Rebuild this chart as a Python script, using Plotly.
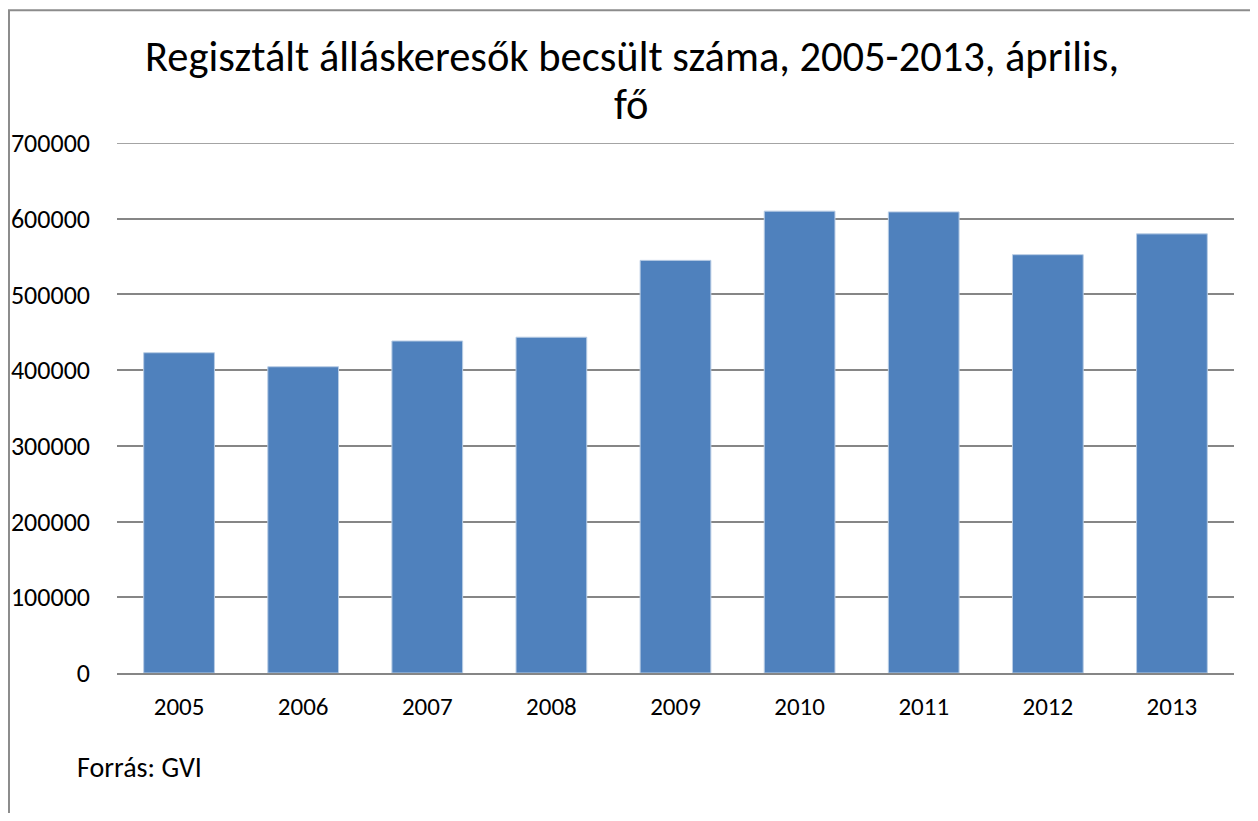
import plotly.graph_objects as go

years = ["2005", "2006", "2007", "2008", "2009", "2010", "2011", "2012", "2013"]
values = [423000, 404500, 438500, 443500, 545000, 610000, 609000, 552500, 580000]
y_ticks = [0, 100000, 200000, 300000, 400000, 500000, 600000, 700000]
title_lines = ["Regisztált álláskeresők becsült száma, 2005-2013, április,", "fő"]
source_text = "Forrás: GVI"

font_family = "Carlito, Calibri, 'Open Sans', sans-serif"
grid_color = "#868686"

fig = go.Figure(
    go.Bar(
        x=years,
        y=values,
        marker=dict(color="#4F81BD", line=dict(color="#B9CDE5", width=1)),
        width=0.57,
    )
)

fig.update_layout(
    width=1242,
    height=805,
    paper_bgcolor="white",
    plot_bgcolor="white",
    margin=dict(l=109, r=16, t=135, b=140),
    showlegend=False,
    font=dict(family=font_family, color="black", size=25),
    shapes=[
        dict(type="rect", xref="paper", yref="paper",
             x0=-0.0967, x1=1.2, y0=-0.5, y1=1.2505,
             line=dict(color="#8C8C8C", width=2), fillcolor="rgba(0,0,0,0)",
             layer="below"),
        dict(type="line", xref="paper", yref="y",
             x0=0, x1=1, y0=y_ticks[-1], y1=y_ticks[-1],
             line=dict(color=grid_color, width=1.5), layer="below"),
    ],
    annotations=[
        dict(text=title_lines[0], xref="paper", yref="paper",
             x=0.461, y=1.1623, xanchor="center", yanchor="middle",
             showarrow=False,
             font=dict(family=font_family, size=42.5, color="black")),
        dict(text=title_lines[1], xref="paper", yref="paper",
             x=0.461, y=1.0717, xanchor="center", yanchor="middle",
             showarrow=False,
             font=dict(family=font_family, size=42.5, color="black")),
        dict(text=source_text, xref="paper", yref="paper",
             x=-0.0376, y=-0.179, xanchor="left", yanchor="middle",
             showarrow=False,
             font=dict(family=font_family, size=28, color="black")),
    ],
)

fig.update_yaxes(
    range=[0, 700000],
    tickvals=y_ticks,
    ticktext=[str(v) for v in y_ticks],
    showgrid=True,
    gridcolor=grid_color,
    gridwidth=1.5,
    zeroline=False,
    showline=False,
    ticks="",
    ticklabelstandoff=26,
    tickfont=dict(size=26),
    automargin=False,
)
fig.update_xaxes(
    showline=True,
    linecolor=grid_color,
    linewidth=1.5,
    ticks="",
    ticklabelstandoff=10,
    tickfont=dict(size=25),
    automargin=False,
)

fig.write_html("out.html")
